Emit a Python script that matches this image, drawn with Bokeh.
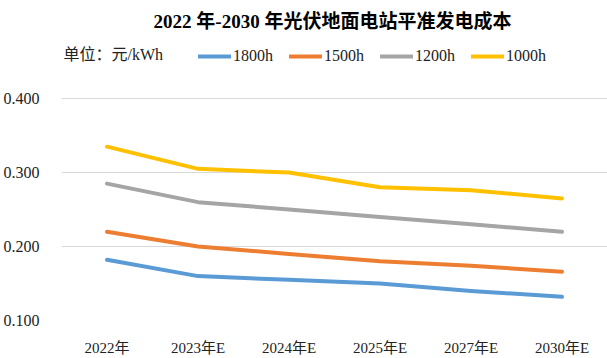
from bokeh.plotting import figure
from bokeh.models import Legend, LegendItem, FixedTicker, Label, Range1d, FactorRange, PrintfTickFormatter
from bokeh.embed import file_html
from bokeh.resources import INLINE

categories = ["2022年", "2023年E", "2024年E", "2025年E", "2027年E", "2030年E"]
s1800 = [0.182, 0.160, 0.155, 0.150, 0.140, 0.132]
s1500 = [0.220, 0.200, 0.190, 0.180, 0.174, 0.166]
s1200 = [0.285, 0.260, 0.250, 0.240, 0.230, 0.220]
s1000 = [0.335, 0.305, 0.300, 0.280, 0.276, 0.265]
series_names = ["1800h", "1500h", "1200h", "1000h"]
colors = ["#5B9BD5", "#ED7D31", "#A5A5A5", "#FFC000"]
y_ticks = [0.1, 0.2, 0.3, 0.4]
title_text = "2022 年-2030 年光伏地面电站平准发电成本"
unit_text = "单位：元/kWh"

FONT = "'Liberation Serif', 'Noto Sans CJK SC', serif"
W, H = 607, 358
BL, BB = 60, 35
FH = H - BB            # frame height (frame reaches the top of the canvas)
TOP_GAP = 99           # pixels between canvas top and the 0.400 grid line
y_lo, y_hi = 0.1, 0.4
y_top = y_hi + TOP_GAP * (y_hi - y_lo) / (FH - TOP_GAP)

p = figure(width=W, height=H, x_range=FactorRange(*categories), y_range=Range1d(y_lo, y_top),
           output_backend="svg", toolbar_location=None,
           min_border_left=BL, min_border_right=0, min_border_bottom=BB, min_border_top=0)
p.outline_line_color = None

items = []
for name, vals, c in zip(series_names, [s1800, s1500, s1200, s1000], colors):
    r = p.line(categories, vals, line_color=c, line_width=4, line_cap="round", line_join="round")
    items.append(LegendItem(label=name, renderers=[r]))

legend = Legend(items=items, orientation="horizontal", location=(137, FH - 69),
                label_text_font=FONT, label_text_font_size="16px", label_text_color="#222222",
                glyph_width=33, glyph_height=20, label_standoff=2, spacing=16, label_height=20,
                border_line_color=None, background_fill_alpha=0, padding=0, margin=0)
p.add_layout(legend, "center")

p.add_layout(Label(x=2, y=FH - 57, x_units="screen", y_units="screen", text=unit_text,
                   text_font=FONT, text_font_size="16px", text_color="#222222",
                   text_baseline="middle"))
p.add_layout(Label(x=271, y=FH - 24, x_units="screen", y_units="screen", text=title_text,
                   text_font=FONT, text_font_size="19px", text_font_style="bold",
                   text_color="#000000", text_align="center", text_baseline="middle"))

p.yaxis.ticker = FixedTicker(ticks=y_ticks)
p.yaxis.formatter = PrintfTickFormatter(format="%.3f")
for ax in (p.xaxis, p.yaxis):
    ax.axis_line_color = None
    ax.major_tick_line_color = None
    ax.minor_tick_line_color = None
    ax.major_label_text_font = FONT
    ax.major_label_text_color = "#222222"
p.yaxis.major_label_text_font_size = "16px"
p.xaxis.major_label_text_font_size = "15px"
p.yaxis.major_label_standoff = 16
p.xaxis.major_label_standoff = 13
p.xgrid.grid_line_color = None
p.ygrid.grid_line_color = "#D9D9D9"
p.ygrid.grid_line_width = 1

open("out.html", "w").write(file_html(p, INLINE))
